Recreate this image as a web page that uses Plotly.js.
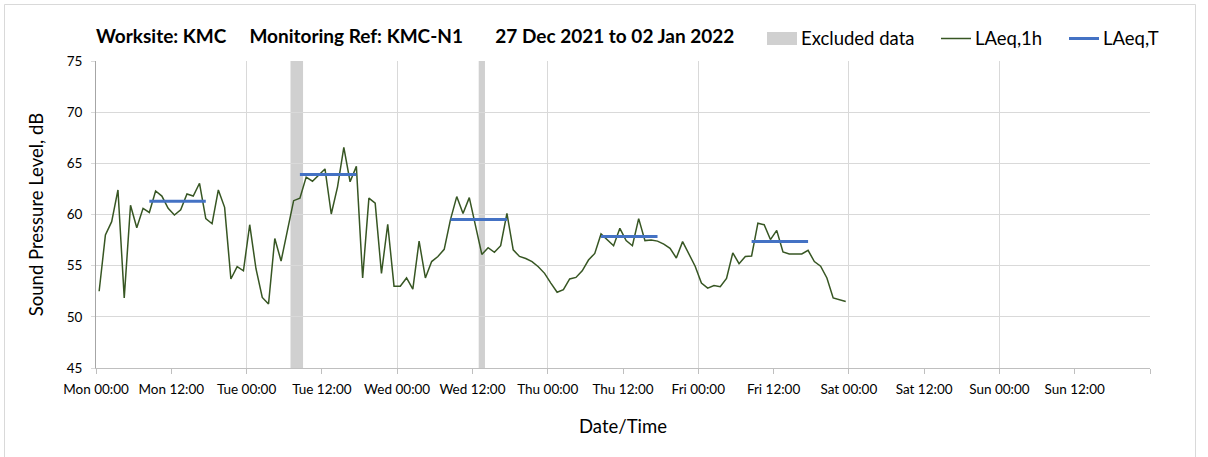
<!DOCTYPE html>
<html>
<head>
<meta charset="utf-8">
<script src="https://cdn.plot.ly/plotly-3.0.1.min.js"></script>
<style>
html,body{margin:0;padding:0;background:#fff;}
#chart{width:1208px;height:457px;}
</style>
</head>
<body>
<div id="chart"></div>
<script>
// ---- Data ----
const dayDates = ['2021-12-27', '2021-12-28', '2021-12-29', '2021-12-30', '2021-12-31'];
// hourly LAeq,1h values, one per hour (plotted at hh:30)
const monLAeq1h = [52.5, 58.0, 59.3, 62.4, 51.85, 60.9, 58.7, 60.6, 60.2, 62.3, 61.8, 60.6,
                   59.95, 60.45, 62.0, 61.8, 63.05, 59.6, 59.1, 62.4, 60.7, 53.7, 54.9, 54.5];
const tueLAeq1h = [59.0, 54.7, 51.9, 51.25, 57.65, 55.45, 58.4, 61.35, 61.6, 63.65, 63.25, 63.9,
                   64.45, 60.05, 62.7, 66.55, 63.2, 64.7, 53.8, 61.6, 61.1, 54.25, 59.05, 53.0];
const wedLAeq1h = [53.0, 53.8, 52.7, 57.4, 53.8, 55.4, 55.9, 56.6, 59.5, 61.75, 60.1, 61.65,
                   58.9, 56.1, 56.75, 56.3, 56.95, 60.1, 56.55, 55.9, 55.7, 55.4, 54.9, 54.25];
const thuLAeq1h = [53.3, 52.4, 52.65, 53.7, 53.85, 54.5, 55.55, 56.2, 58.1, 57.5, 56.95, 58.65,
                   57.45, 56.95, 59.6, 57.45, 57.5, 57.4, 57.1, 56.7, 55.75, 57.35, 56.15, 54.95];
const friLAeq1h = [53.3, 52.8, 53.05, 52.95, 53.75, 56.25, 55.2, 55.9, 55.95, 59.15, 59.0, 57.55,
                   58.45, 56.35, 56.15, 56.15, 56.15, 56.5, 55.4, 54.95, 53.8, 51.85, 51.7, 51.5];
const dailyLAeq1h = [monLAeq1h, tueLAeq1h, wedLAeq1h, thuLAeq1h, friLAeq1h];

// LAeq,T (daytime period) per day
const periodStart = ['2021-12-27 08:30', '2021-12-28 08:30', '2021-12-29 08:30', '2021-12-30 08:30', '2021-12-31 08:30'];
const periodEnd   = ['2021-12-27 17:30', '2021-12-28 17:30', '2021-12-29 17:30', '2021-12-30 17:30', '2021-12-31 17:30'];
const periodLAeqT = [61.3, 63.9, 59.5, 57.85, 57.35];

// Excluded data periods
const excludedStart = ['2021-12-28 07:00', '2021-12-29 13:00'];
const excludedEnd   = ['2021-12-28 09:00', '2021-12-29 14:00'];

// Axis ticks
const tickTimes = ['2021-12-27 00:00', '2021-12-27 12:00', '2021-12-28 00:00', '2021-12-28 12:00',
                   '2021-12-29 00:00', '2021-12-29 12:00', '2021-12-30 00:00', '2021-12-30 12:00',
                   '2021-12-31 00:00', '2021-12-31 12:00', '2022-01-01 00:00', '2022-01-01 12:00',
                   '2022-01-02 00:00', '2022-01-02 12:00', '2022-01-03 00:00'];
const tickLabels = ['Mon 00:00', 'Mon 12:00', 'Tue 00:00', 'Tue 12:00', 'Wed 00:00', 'Wed 12:00',
                    'Thu 00:00', 'Thu 12:00', 'Fri 00:00', 'Fri 12:00', 'Sat 00:00', 'Sat 12:00',
                    'Sun 00:00', 'Sun 12:00', ''];
const xRange = ['2021-12-27 00:00', '2022-01-03 00:00'];
const yRange = [45, 75];

const NB = n => '\u00a0'.repeat(n);
const titleText = 'Worksite: KMC' + NB(5) + 'Monitoring Ref: KMC-N1' + NB(7) + '27 Dec 2021 to 02 Jan 2022';

// ---- Build traces ----
const hourX = [], hourY = [];
dayDates.forEach((d, i) => {
  dailyLAeq1h[i].forEach((v, h) => {
    hourX.push(d + ' ' + String(h).padStart(2, '0') + ':30');
    hourY.push(v);
  });
});

const tX = [], tY = [];
periodLAeqT.forEach((v, i) => {
  tX.push(periodStart[i], periodEnd[i], null);
  tY.push(v, v, null);
});

const FONT = 'Lato, "Open Sans", sans-serif';
const GREEN = '#375623';
const BLUE = '#4472C4';
const BAND = '#D0D0D0';
const GRID = '#D9D9D9';

const traces = [
  {x: hourX, y: hourY, type: 'scatter', mode: 'lines', name: 'LAeq,1h',
   line: {color: GREEN, width: 1.5}, xaxis: 'x', yaxis: 'y', showlegend: false},
  {x: tX, y: tY, type: 'scatter', mode: 'lines', name: 'LAeq,T',
   line: {color: BLUE, width: 3}, xaxis: 'x2', yaxis: 'y', showlegend: false, connectgaps: false}
];

// plot area pixel geometry used for legend placement
const L = 96, R = 1150, T = 61, B = 368;
const px = v => (v - L) / (R - L);
const py = v => (B - v) / (B - T);

const shapes = excludedStart.map((s, i) => ({
  type: 'rect', xref: 'x', yref: 'paper', x0: s, x1: excludedEnd[i], y0: 0, y1: 1,
  fillcolor: BAND, line: {width: 0}, layer: 'between'
}));
// custom legend symbols
shapes.push({type: 'rect', xref: 'paper', yref: 'paper', x0: px(767), x1: px(797), y0: py(45), y1: py(32),
             fillcolor: BAND, line: {width: 0}});
shapes.push({type: 'line', xref: 'paper', yref: 'paper', x0: px(941), x1: px(971), y0: py(38.5), y1: py(38.5),
             line: {color: GREEN, width: 1.5}});
shapes.push({type: 'line', xref: 'paper', yref: 'paper', x0: px(1069), x1: px(1099), y0: py(38.5), y1: py(38.5),
             line: {color: BLUE, width: 3}});
// chart border
shapes.push({type: 'rect', xref: 'paper', yref: 'paper', x0: px(4.5), x1: px(1195.5), y0: py(470), y1: py(4.5),
             line: {color: GRID, width: 1}, fillcolor: 'rgba(0,0,0,0)'});

const legFont = {family: FONT, size: 18.5, color: '#000'};
const annotations = [
  {xref: 'paper', yref: 'paper', x: px(799), y: py(38.5), xanchor: 'left', yanchor: 'middle',
   text: 'Excluded data', showarrow: false, font: legFont},
  {xref: 'paper', yref: 'paper', x: px(973), y: py(38.5), xanchor: 'left', yanchor: 'middle',
   text: 'LAeq,1h', showarrow: false, font: legFont},
  {xref: 'paper', yref: 'paper', x: px(1101), y: py(38.5), xanchor: 'left', yanchor: 'middle',
   text: 'LAeq,T', showarrow: false, font: legFont}
];

const layout = {
  width: 1208, height: 457,
  margin: {l: L, r: 1208 - R, t: T, b: 457 - B},
  paper_bgcolor: '#fff', plot_bgcolor: '#fff',
  font: {family: FONT, color: '#000'},
  showlegend: false,
  title: {text: titleText, font: {family: FONT, size: 19, weight: 'bold', color: '#000'},
          xref: 'paper', x: 0, xanchor: 'left', yref: 'container', y: 1 - 36.5 / 457, yanchor: 'middle'},
  xaxis: {
    type: 'date', range: xRange, tickvals: tickTimes, ticktext: tickLabels,
    ticks: 'outside', ticklen: 5, tickcolor: '#BFBFBF', showline: true, linecolor: '#BFBFBF',
    showgrid: false, zeroline: false, ticklabelstandoff: 4,
    tickfont: {family: FONT, size: 13.5, color: '#000'},
    title: {text: 'Date/Time', font: {family: FONT, size: 18.5, color: '#000'}, standoff: 23}
  },
  xaxis2: {
    type: 'date', range: xRange, overlaying: 'x', anchor: 'y', dtick: 86400000, tick0: xRange[0],
    showgrid: true, gridcolor: GRID, gridwidth: 1, showticklabels: false, ticks: '', showline: false, zeroline: false
  },
  yaxis: {
    range: yRange, dtick: 5, tick0: 45, showgrid: true, gridcolor: GRID, gridwidth: 1,
    ticks: 'outside', ticklen: 4, tickcolor: GRID, showline: true, linecolor: '#A6A6A6', zeroline: false,
    ticklabelstandoff: 6,
    tickfont: {family: FONT, size: 13.5, color: '#000'},
    title: {text: 'Sound Pressure Level, dB', font: {family: FONT, size: 18.5, color: '#000'}, standoff: 18}
  },
  shapes: shapes,
  annotations: annotations
};

Plotly.newPlot('chart', traces, layout, {displayModeBar: false, staticPlot: true});
</script>
</body>
</html>
